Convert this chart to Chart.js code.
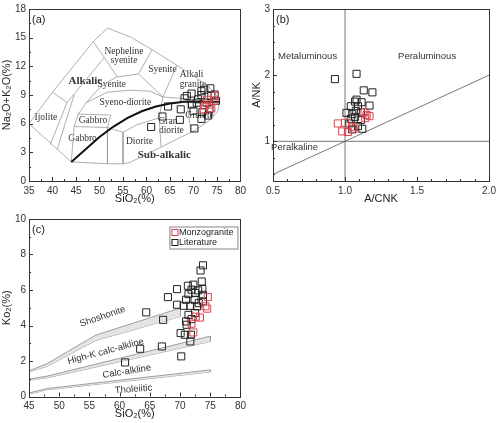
<!DOCTYPE html>
<html>
<head>
<meta charset="utf-8">
<script src="https://cdn.jsdelivr.net/npm/chart.js@4.4.0/dist/chart.umd.min.js"></script>
<style>
  html, body { margin: 0; padding: 0; background: #fff; }
  #wrap { position: relative; width: 500px; height: 423px; }
  canvas { position: absolute; }
</style>
</head>
<body>
<div id="wrap">
  <canvas id="tas" width="250" height="210" style="left:0;top:0"></canvas>
  <canvas id="acnk" width="250" height="210" style="left:250px;top:0"></canvas>
  <canvas id="k2o" width="250" height="213" style="left:0;top:210px"></canvas>
</div>
<script>
// ---- panel (a): TAS, SiO2 vs Na2O+K2O ----
var tasXTicks = [35, 40, 45, 50, 55, 60, 65, 70, 75, 80];
var tasYTicks = [0, 3, 6, 9, 12, 15, 18];

var tasLiterature = [[64.6,7.8],[63.4,6.75],[67.3,7.5],[67.1,6.4],[61,5.65],[70.2,5.5],[68.1,8.65],
  [69.6,9.15],[69.7,8.0],[71,8.55],[71.7,9.4],[72.3,9.55],[73.6,9.7],[73.8,8.9],[70,7.35],[71.9,7.2],
  [71.7,6.5],[73.1,6.85],[74.8,8.4],[72.8,8.2],[70.7,8.2],[73.4,7.5],[74.5,9.05],[68.6,8.9],[71.7,9.0]];
var tasMonzogranite = [[72.4,7.9],[73.4,8.0],[74.4,8.4],[74.6,8.9],[72.9,8.5],[73.8,7.6],[72.2,7.5]];

// field boundaries
var tasOuter = [[35,6],[40,9.3],[48.7,14.6],[51.7,16],[56.5,15.1],[61,13.8],[66.5,12.1],[70.3,10.9],
  [73.2,9.9],[75.6,8.6],[75.2,7.3],[73.3,6.3],[70.3,5.3],[56.5,1.95],[55,1.8],[51.7,1.8],[44,2],[35,6]];
var tasInner = [
  [[40,9.3],[43.1,8.2]],
  [[43.1,8.2],[39.5,3.8]],
  [[43.1,8.2],[51,12.9]],
  [[48.7,14.6],[53.8,10.9]],
  [[53.8,10.9],[58.3,11.2]],
  [[58.3,11.2],[61.2,13.75]],
  [[44.6,9.0],[41,3.3]],
  [[47.2,8.2],[45.5,7.0],[44.6,5.7],[44,2]],
  [[47.2,8.2],[51.7,9.3],[56.5,9.5],[60.7,9.4],[63.5,8.8]],
  [[47.2,8.2],[49.5,9.5],[51.5,10.3],[53.8,10.9]],
  [[45.5,7.0],[52.4,6.9]],
  [[44.6,5.7],[51.7,5.6]],
  [[51.7,5.6],[52.4,6.9]],
  [[51.7,5.6],[51.7,1.8]],
  [[55,5.1],[55,1.8]],
  [[51.7,5.6],[55,5.1],[58,5.9],[62.7,6.6]],
  [[62.7,6.6],[63.1,3.6]],
  [[58.3,11.2],[63.5,8.8]],
  [[66.5,12.1],[63.5,8.8],[62.7,6.6]],
  [[63.5,8.8],[68.5,8.6],[73.3,8.3]],
  [[68.5,8.6],[69.5,5.1]]
];
var tasDivide = [[44,2],[47,3.3],[50,4.6],[53,5.7],[56,6.6],[59,7.3],[62,7.8],[65,8.1],[68,8.3],[71,8.3],[75.5,8.3]];

// ---- panel (b): A/CNK vs A/NK ----
var acnkXTicks = [0.5, 1.0, 1.5, 2.0];
var acnkYTicks = [1, 2, 3];
var acnkLiterature = [[0.93,1.94],[1.08,2.02],[1.13,1.77],[1.19,1.74],[1.17,1.54],[1.08,1.63],[1.04,1.53],
  [1.09,1.53],[1.01,1.43],[1.07,1.37],[1.04,1.34],[1.11,1.32],[1.03,1.27],[1.09,1.23],[1.12,1.19],
  [1.05,1.18],[1.075,1.46],[1.115,1.59],[1.05,1.41],[1.11,1.44],[1.07,1.6]];
var acnkMonzogranite = [[0.95,1.27],[1.0,1.28],[0.98,1.15],[1.02,1.14],[1.06,1.19],[1.135,1.44],
  [1.15,1.40],[1.17,1.38],[1.14,1.35],[1.055,1.22]];
var acnkLines = [
  [[1,0.4],[1,3]],
  [[0.5,1],[2,1]],
  [[0.5,0.5],[2,2]]
];

// ---- panel (c): SiO2 vs K2O ----
var kXTicks = [45, 50, 55, 60, 65, 70, 75, 80];
var kYTicks = [0, 2, 4, 6, 8, 10];
var kLiterature = [[73.8,7.39],[73.4,7.1],[73.6,6.48],[73.7,6.05],[69.5,6.05],[68.0,5.6],[64.4,4.74],
  [67.2,4.32],[69.5,5.17],[71.3,6.24],[72.2,6.3],[71.9,6.02],[71.4,5.77],[72.5,5.83],[73.0,5.98],
  [73.8,5.73],[72.4,5.45],[71,5.45],[70.6,5.11],[71.7,5.11],[72.8,5.08],[73.8,5.36],[71.4,4.6],
  [71.9,4.36],[71,4.23],[70.1,3.57],[70.8,3.48],[71.8,3.48],[71.7,3.1],[67,2.82],[63.4,2.69],
  [60.9,1.92],[70.2,2.26],[71.1,4.04],[72.5,4.7],[73.1,5.26]];
var kMonzogranite = [[74.6,5.6],[74.2,5.08],[74.5,4.95],[72.6,4.5],[73.3,4.45],[71.9,4.1],[72.2,3.61]];
// series boundary bands: [upper, lower]
var bandSho = [[[45,1.45],[48,1.85],[56,3.45],[70,4.98]], [[45,1.38],[48,1.7],[56,3.15],[70,4.5]]];
var bandHK  = [[[45,0.98],[48,1.15],[75,3.4]], [[45,0.92],[48,1.05],[75,3.1]]];
var bandCA  = [[[45,0.2],[48,0.45],[75,1.5]], [[45,0.13],[48,0.38],[75,1.38]]];

Chart.defaults.font.family = '"Liberation Sans", Arial, sans-serif';
Chart.defaults.font.size = 10;
Chart.defaults.color = '#333';

function xy(a) { return a.map(function (p) { return { x: p[0], y: p[1] }; }); }

function lineSet(a, color, width) {
  return { data: xy(a), showLine: true, pointRadius: 0, borderColor: color, borderWidth: width, fill: false, order: 2 };
}
function pointSet(label, a, color) {
  return { label: label, data: xy(a), pointStyle: 'rect', pointRadius: 5, borderWidth: 1,
    borderColor: color, backgroundColor: 'rgba(0,0,0,0)', showLine: false, order: 0 };
}

// frame, inward ticks, texts and legend
var framePlugin = {
  id: 'frame',
  beforeDatasetsDraw: function (chart, args, o) {
    var ctx = chart.ctx, xs = chart.scales.x, ys = chart.scales.y;
    (o.texts || []).forEach(function (t) {
      ctx.save();
      ctx.font = t.font || o.font;
      ctx.fillStyle = '#333';
      ctx.textAlign = t.align || 'center';
      ctx.textBaseline = 'middle';
      ctx.translate(xs.getPixelForValue(t.x), ys.getPixelForValue(t.y));
      if (t.rot) ctx.rotate(t.rot * Math.PI / 180);
      ctx.fillText(t.t, 0, 0);
      ctx.restore();
    });
  },
  afterDraw: function (chart, args, o) {
    var ctx = chart.ctx, a = chart.chartArea, xs = chart.scales.x, ys = chart.scales.y;
    ctx.save();
    ctx.strokeStyle = '#333';
    ctx.lineWidth = 1;
    ctx.strokeRect(Math.round(a.left) + 0.5, Math.round(a.top) + 0.5, Math.round(a.width), Math.round(a.height));
    ctx.beginPath();
    var isMajor = function (scale, v) {
      return scale.ticks.some(function (t) { return Math.abs(t.value - v) < 1e-6; });
    };
    var v, p, len;
    for (v = Math.ceil(xs.min / o.minorX - 1e-9) * o.minorX; v <= xs.max + 1e-9; v += o.minorX) {
      p = Math.round(xs.getPixelForValue(v)) + 0.5;
      len = isMajor(xs, v) ? 4 : 2;
      ctx.moveTo(p, a.bottom); ctx.lineTo(p, a.bottom - len);
    }
    for (v = Math.ceil(ys.min / o.minorY - 1e-9) * o.minorY; v <= ys.max + 1e-9; v += o.minorY) {
      p = Math.round(ys.getPixelForValue(v)) + 0.5;
      len = isMajor(ys, v) ? 4 : 2;
      ctx.moveTo(a.left, p); ctx.lineTo(a.left + len, p);
    }
    ctx.stroke();
    if (o.label) {
      ctx.font = '11px "Liberation Sans", Arial, sans-serif';
      ctx.fillStyle = '#222';
      ctx.textAlign = 'left';
      ctx.textBaseline = 'middle';
      ctx.fillText(o.label, a.left + 3, a.top + 11);
    }
    if (o.legend) {
      var w = 68, h = 22, lx = a.right - 3 - w, ly = a.top + 7.5;
      ctx.fillStyle = '#fff';
      ctx.fillRect(lx, ly, w, h);
      ctx.strokeStyle = '#666';
      ctx.lineWidth = 0.8;
      ctx.strokeRect(lx + 0.5, ly + 0.5, w, h);
      ctx.font = '9px "Liberation Sans", Arial, sans-serif';
      ctx.textAlign = 'left';
      ctx.textBaseline = 'middle';
      o.legend.forEach(function (idx, i) {
        var ds = chart.data.datasets[idx];
        var cy = ly + 6 + i * 10;
        ctx.strokeStyle = ds.borderColor;
        ctx.lineWidth = 1;
        ctx.strokeRect(lx + 2.5, cy - 3, 6, 6);
        ctx.fillStyle = '#222';
        ctx.fillText(ds.label, lx + 9.5, cy + 0.5);
      });
    }
    ctx.restore();
  }
};

function axis(min, max, ticks, title, fit, fmt) {
  var horizontal = fit.h !== undefined;
  return {
    type: 'linear', min: min, max: max,
    grid: { display: false, drawTicks: false },
    border: { display: false },
    ticks: { padding: horizontal ? 4 : 3, color: '#333', font: { size: 10 },
      callback: fmt || function (v) { return v; } },
    afterBuildTicks: function (s) { s.ticks = ticks.map(function (v) { return { value: v }; }); },
    afterFit: function (s) { if (horizontal) s.height = fit.h; else s.width = fit.w; },
    title: { display: true, text: title, color: '#222', font: { size: 11 }, padding: { top: 0, bottom: 1 } }
  };
}

function baseOptions(xAxis, yAxis, padding, frame) {
  return {
    responsive: false, animation: false, devicePixelRatio: 1,
    layout: { padding: padding },
    scales: { x: xAxis, y: yAxis },
    plugins: { legend: { display: false }, tooltip: { enabled: false }, frame: frame }
  };
}

var BLACK = '#222', RED = '#e0404c';
var serif = '9.5px "Liberation Serif", "Times New Roman", serif';
var serifBold = 'bold 11px "Liberation Serif", "Times New Roman", serif';

// ---- chart (a) ----
var tasSets = [pointSet('Monzogranite', tasMonzogranite, RED), pointSet('Literature', tasLiterature, BLACK),
  lineSet(tasOuter, '#9a9a9a', 0.8)];
tasInner.forEach(function (l) { tasSets.push(lineSet(l, '#9a9a9a', 0.8)); });
var divide = lineSet(tasDivide, '#111', 2);
divide.order = 1;
tasSets.push(divide);

new Chart(document.getElementById('tas'), {
  type: 'scatter',
  data: { datasets: tasSets },
  options: baseOptions(
    axis(35, 80, tasXTicks, 'SiO\u2082(%)', { h: 26 }),
    axis(0, 18, tasYTicks, 'Na\u2082O+K\u2082O(%)', { w: 29 }),
    { top: 3, right: 3, left: 0, bottom: 3 },
    { minorX: 2.5, minorY: 1.5, label: '(a)', font: serif, texts: [
      { x: 38.6, y: 6.6, t: 'Ijolite' },
      { x: 48.6, y: 6.35, t: 'Gabbro' },
      { x: 46.4, y: 4.5, t: 'Gabbro' },
      { x: 55.5, y: 8.2, t: 'Syeno-diorite' },
      { x: 52.6, y: 10.1, t: 'Syenite' },
      { x: 55.2, y: 13.6, t: 'Nepheline' },
      { x: 55.2, y: 12.6, t: 'syenite' },
      { x: 63.4, y: 11.65, t: 'Syenite' },
      { x: 69.6, y: 11.1, t: 'Alkali' },
      { x: 69.9, y: 10.1, t: 'granite' },
      { x: 47, y: 10.5, t: 'Alkalic', font: serifBold },
      { x: 64.6, y: 6.2, t: 'Gran' },
      { x: 65.3, y: 5.3, t: 'diorite' },
      { x: 71.3, y: 6.9, t: 'Granite' },
      { x: 58.5, y: 4.15, t: 'Diorite' },
      { x: 63.8, y: 2.75, t: 'Sub-alkalic', font: serifBold }
    ] }
  ),
  plugins: [framePlugin]
});

// ---- chart (b) ----
var acnkSets = [pointSet('Monzogranite', acnkMonzogranite, RED), pointSet('Literature', acnkLiterature, BLACK)];
acnkLines.forEach(function (l) { acnkSets.push(lineSet(l, '#555', 0.8)); });
var sans9 = '9.5px "Liberation Sans", Arial, sans-serif';

new Chart(document.getElementById('acnk'), {
  type: 'scatter',
  data: { datasets: acnkSets },
  options: baseOptions(
    axis(0.5, 2.0, acnkXTicks, 'A/CNK', { h: 26 }, function (v) { return v.toFixed(1); }),
    axis(0.4, 3, acnkYTicks, 'A/NK', { w: 23 }),
    { top: 3, right: 7, left: 0, bottom: 3 },
    { minorX: 0.1, minorY: 0.25, label: '(b)', font: sans9, texts: [
      { x: 0.74, y: 2.28, t: 'Metaluminous' },
      { x: 1.57, y: 2.28, t: 'Peraluminous' },
      { x: 0.65, y: 0.91, t: 'Peralkaline' }
    ] }
  ),
  plugins: [framePlugin]
});

// ---- chart (c) ----
var kSets = [pointSet('Monzogranite', kMonzogranite, RED), pointSet('Literature', kLiterature, BLACK)];
[bandSho, bandHK, bandCA].forEach(function (b) {
  var up = lineSet(b[0], '#888', 0.8);
  up.fill = '+1';
  up.backgroundColor = '#e4e4e4';
  kSets.push(up);
  kSets.push(lineSet(b[1], '#888', 0.8));
  var last = b[0].length - 1;
  kSets.push(lineSet([b[0][last], b[1][last]], '#888', 0.8));
});

new Chart(document.getElementById('k2o'), {
  type: 'scatter',
  data: { datasets: kSets },
  options: baseOptions(
    axis(45, 80, kXTicks, 'SiO\u2082(%)', { h: 25 }),
    axis(0, 10, kYTicks, 'Ko\u2082(%)', { w: 29 }),
    { top: 9, right: 3, left: 0, bottom: 1.5 },
    { minorX: 2.5, minorY: 1, label: '(c)', font: sans9, legend: [0, 1], texts: [
      { x: 57.2, y: 4.5, t: 'Shoshonite', rot: -19 },
      { x: 57.7, y: 2.54, t: 'High-K calc-alkline', rot: -15 },
      { x: 61.2, y: 1.41, t: 'Calc-alkline', rot: -9 },
      { x: 62.3, y: 0.41, t: 'Tholeiitic', rot: -4 }
    ] }
  ),
  plugins: [framePlugin]
});
</script>
</body>
</html>
